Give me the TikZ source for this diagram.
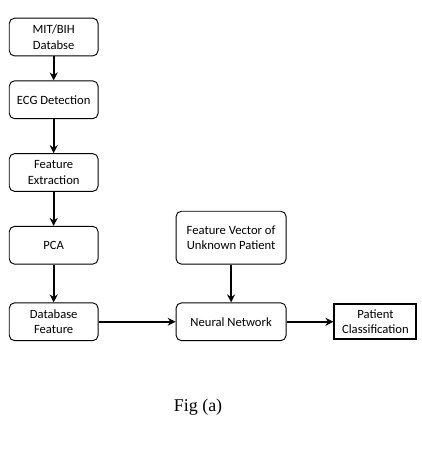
\documentclass[tikz,border=0pt]{standalone}
\usepackage{fontspec}
\setmainfont{Liberation Serif}
\newfontfamily\boxfont{Carlito}
\usepackage{tikz}
\usetikzlibrary{arrows.meta,positioning}

\begin{document}
\begin{tikzpicture}[
            block/.style={draw=black,fill=white,rounded corners=4pt,line width=0.7pt,
              minimum width=2.35cm,minimum height=1.0cm,inner sep=1pt,
            font=\boxfont\fontsize{9.5}{11.5}\selectfont,align=center},
            link/.style={-{Stealth[length=6pt,width=6pt]},black,line width=1.4pt}
            ]
            \useasboundingbox (0,0) rectangle (11.14,-11.88);
            \node[block] at (1.42,-0.98)            (db)   {MIT/BIH\\Databse};
            \node[block,below=0.635cm of db]        (ecg)  {ECG Detection};
            \node[block,below=0.9cm of ecg]         (feat) {Feature\\Extraction};
            \node[block,below=0.9cm of feat]        (pca)  {PCA};
            \node[block,below=1.0cm of pca]         (dbf)  {Database\\Feature};
            \node[block,right=2.04cm of dbf,
            minimum width=2.91cm]                  (nn)   {Neural Network};
            \node[block,above=1.0cm of nn,
            minimum width=2.91cm,minimum height=1.4cm] (fvec) {Feature Vector of\\Unknown Patient};
            \node[block,right=1.24cm of nn,
            rounded corners=0pt,line width=1.5pt,
            minimum width=2.17cm,minimum height=0.93cm] (cls)  {Patient\\Classification};
            \node[font=\fontsize{13.5}{16}\selectfont] at (5.24,-10.77) (cap) {Fig (a)};

            \draw[link] (db)--(ecg);
            \draw[link] (ecg)--(feat);
            \draw[link] (feat)--(pca);
            \draw[link] (pca)--(dbf);
            \draw[link] (dbf)--(nn);
            \draw[link] (fvec)--(nn);
            \draw[link] (nn)--(cls);
          \end{tikzpicture}
\end{document}
